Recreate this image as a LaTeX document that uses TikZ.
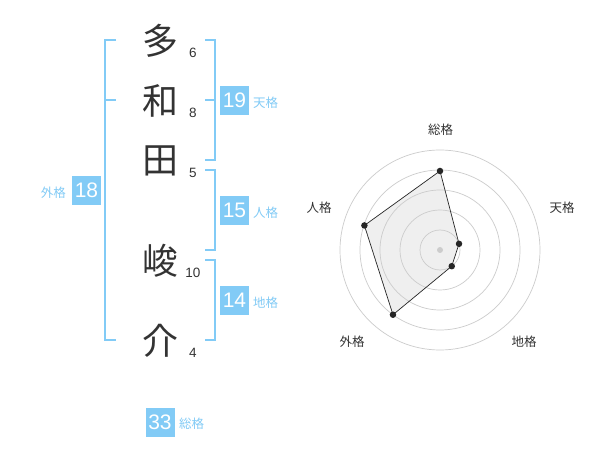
\documentclass[tikz,border=0pt]{standalone}
\usepackage{fontspec}
\setmainfont{Liberation Sans}
\newfontfamily\jp{Noto Sans CJK JP}
\definecolor{kblue}{HTML}{82CBF6}
\definecolor{ktext}{HTML}{333333}
\definecolor{ring}{HTML}{CCCCCC}
\definecolor{polyfill}{HTML}{EFEFEF}
\begin{document}
\begin{tikzpicture}[x=1pt,y=-1pt,
  kanji/.style={font=\jp\fontsize{36}{36}\selectfont, text=ktext, inner sep=0pt},
  strokenum/.style={font=\fontsize{13.5}{14}\selectfont, text=ktext, inner sep=0pt},
  numbox/.style={fill=kblue, text=white, minimum width=29pt, minimum height=29pt, inner sep=0pt, font=\fontsize{21}{21}\selectfont},
  kaku/.style={font=\jp\fontsize{12.5}{13}\selectfont, text=kblue, inner sep=0pt},
  bracket/.style={draw=kblue, line width=1.5pt},
  radarlabel/.style={font=\jp\fontsize{12.5}{13}\selectfont, text=ktext, inner sep=0pt},
  ringline/.style={draw=ring, line width=0.7pt},
  dot/.style={fill=black!85, circle, inner sep=0pt, minimum size=6.5pt}
]
\useasboundingbox (0,0) rectangle (600,470);
\fill[white] (0,0) rectangle (600,470);

% name characters
\node[kanji] (c1) at (160,41) {多};
\node[kanji] (c2) at (160,101) {和};
\node[kanji] (c3) at (160,161) {田};
\node[kanji] (c4) at (160,261) {峻};
\node[kanji] (c5) at (160,341) {介};

% stroke counts
\node[strokenum] (n1) at (193,53) {6};
\node[strokenum] (n2) at (193,113) {8};
\node[strokenum] (n3) at (193,173) {5};
\node[strokenum] (n4) at (193,273) {10};
\node[strokenum] (n5) at (193,353) {4};

% brackets
\draw[bracket] (116,40) -- (105,40) -- (105,340) -- (116,340);
\draw[bracket] (105,100) -- (116,100);
\draw[bracket] (205,40) -- (215,40) -- (215,160) -- (205,160);
\draw[bracket] (205,100) -- (215,100);
\draw[bracket] (205,170) -- (215,170) -- (215,250) -- (205,250);
\draw[bracket] (205,260) -- (215,260) -- (215,340) -- (205,340);

% score boxes
\node[numbox] (ten) at (234.5,100.5) {19};
\node[kaku, anchor=west] (tenl) at (253,103) {天格};
\node[numbox] (jin) at (234.5,210.5) {15};
\node[kaku, anchor=west] (jinl) at (253,213) {人格};
\node[numbox] (chi) at (234.5,300.5) {14};
\node[kaku, anchor=west] (chil) at (253,303) {地格};
\node[numbox] (gai) at (86.5,190.5) {18};
\node[kaku, anchor=east] (gail) at (66,193) {外格};
\node[numbox] (sou) at (160,422) {33};
\node[kaku, anchor=west] (soul) at (179,424) {総格};

% radar chart
\begin{scope}[shift={(440,250)}, y=1pt]
  \coordinate (pS) at (90:79);
  \coordinate (pT) at (18:20);
  \coordinate (pC) at (-54:20);
  \coordinate (pG) at (-126:80);
  \coordinate (pJ) at (162:79.5);
  \fill[polyfill] (pS) -- (pT) -- (pC) -- (pG) -- (pJ) -- cycle;
  \foreach \r in {20,40,60,80,100} \draw[ringline] (0,0) circle (\r);
  \fill[ring] (0,0) circle (3);
  \draw[black!85, line width=0.7pt] (pS) -- (pT) -- (pC) -- (pG) -- (pJ) -- cycle;
  \foreach \p in {pS,pT,pC,pG,pJ} \node[dot] at (\p) {};
\end{scope}
\node[radarlabel] (rS) at (440.5,130) {総格};
\node[radarlabel] (rT) at (562,208) {天格};
\node[radarlabel] (rJ) at (319,208) {人格};
\node[radarlabel] (rG) at (352,342) {外格};
\node[radarlabel] (rC) at (524,342) {地格};
\end{tikzpicture}
\end{document}
